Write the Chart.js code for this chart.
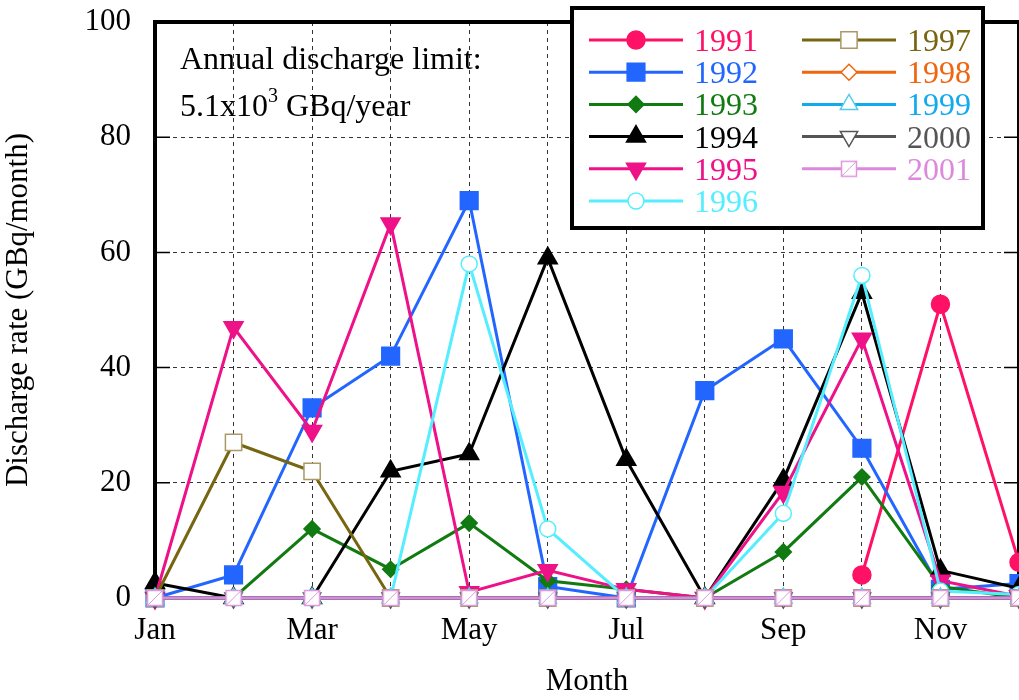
<!DOCTYPE html>
<html>
<head>
<meta charset="utf-8">
<script src="https://cdn.jsdelivr.net/npm/chart.js@4.4.1/dist/chart.umd.min.js"></script>
<style>
  html, body { margin: 0; padding: 0; background: #fff; }
</style>
</head>
<body>
<canvas id="chart" width="1019" height="700"></canvas>
<script>
const months = ['Jan', 'Feb', 'Mar', 'Apr', 'May', 'Jun', 'Jul', 'Aug', 'Sep', 'Oct', 'Nov', 'Dec'];
const yTicks = [0, 20, 40, 60, 80, 100];

// monthly discharge rate (GBq/month)
const d1991 = [null, null, null, null, null, null, null, null, null, 4, 51, 6.2];
const d1992 = [0, 4, 33, 42, 69, 2, 0, 36, 45, 26, 1.5, 2.5];
const d1993 = [0, 0, 12, 5, 13, 3, 1.5, 0, 8, 21, 2, 0];
const d1994 = [2.6, 0, 0, 22, 25, 59, 24, 0, 20.5, 53, 4.8, 1.7];
const d1995 = [0, 47, 29, 65, 1, 4.8, 1.5, 0, 18.4, 45, 3, 0.3];
const d1996 = [0, 0, 0, 0, 58, 12, 0, 0, 14.7, 56, 1.2, 0.6];
const d1997 = [0, 27, 22, 0, 0, 0, 0, 0, 0, 0, 0, 0];
const d1998 = [0, 0, 0, 0, 0, 0, 0, 0, 0, 0, 0, 0];
const d1999 = [0, 0, 0, 0, 0, 0, 0, 0, 0, 0, 0, 0];
const d2000 = [0, 0, 0, 0, 0, 0, 0, 0, 0, 0, 0, 0];
const d2001 = [0, 0, 0, 0, 0, 0, 0, 0, 0, 0, 0, 0];

const seriesNames = ['1991', '1992', '1993', '1994', '1995', '1996', '1997', '1998', '1999', '2000', '2001'];
const seriesData = [d1991, d1992, d1993, d1994, d1995, d1996, d1997, d1998, d1999, d2000, d2001];

const FONT = "'Liberation Serif', 'Times New Roman', serif";

// square with a diagonal stroke, used for 2001
function slashSquare(color) {
    const c = document.createElement('canvas');
    c.width = 18; c.height = 18;
    const g = c.getContext('2d');
    g.fillStyle = '#fff';
    g.fillRect(1, 1, 16, 16);
    g.strokeStyle = color;
    g.lineWidth = 1.5;
    g.strokeRect(1.5, 1.5, 15, 15);
    g.lineWidth = 1;
    g.beginPath();
    g.moveTo(2, 16); g.lineTo(16, 2);
    g.stroke();
    return c;
}

const styles = [
    { color: '#ff1166', mark: '#ff1166', fill: '#ff1166', shape: 'circle', r: 9, rot: 0 },
    { color: '#2266ff', mark: '#2266ff', fill: '#2266ff', shape: 'rect', r: 12.5, rot: 0 },
    { color: '#117a11', mark: '#117a11', fill: '#117a11', shape: 'rectRot', r: 8, rot: 0 },
    { color: '#000000', mark: '#000000', fill: '#000000', shape: 'triangle', r: 11, rot: 0 },
    { color: '#ee1188', mark: '#ee1188', fill: '#ee1188', shape: 'triangle', r: 11, rot: 180 },
    { color: '#55eeff', mark: '#55eeff', fill: '#ffffff', shape: 'circle', r: 8, rot: 0 },
    { color: '#776611', mark: '#aa9966', fill: '#ffffff', shape: 'rect', r: 11.5, rot: 0 },
    { color: '#ee6611', mark: '#ee6611', fill: '#ffffff', shape: 'rectRot', r: 8, rot: 0 },
    { color: '#11aaee', mark: '#55ccee', fill: '#ffffff', shape: 'triangle', r: 10, rot: 0 },
    { color: '#555555', mark: '#555555', fill: '#ffffff', shape: 'triangle', r: 10, rot: 180 },
    { color: '#dd88dd', mark: '#dd99dd', fill: '#ffffff', shape: slashSquare('#dd99dd'), r: 9, rot: 0 }
];

const datasets = seriesNames.map((name, i) => ({
    label: name,
    data: seriesData[i],
    borderColor: styles[i].color,
    backgroundColor: styles[i].fill,
    borderWidth: 3,
    pointStyle: styles[i].shape,
    pointRadius: styles[i].r,
    pointRotation: styles[i].rot,
    pointBackgroundColor: styles[i].fill,
    pointBorderColor: styles[i].mark,
    pointBorderWidth: 1.5,
    tension: 0,
    clip: false,
    order: seriesNames.length - i
}));

// frame, inner ticks, the note and the two-column key
const decorations = {
    id: 'decorations',
    beforeDatasetsDraw(chart) {
        const { ctx, chartArea: a, scales } = chart;
        ctx.save();
        ctx.strokeStyle = '#000';
        ctx.lineWidth = 4;
        ctx.strokeRect(a.left, a.top, a.right - a.left, a.bottom - a.top);
        ctx.lineWidth = 1.5;
        yTicks.forEach(v => {
            const y = scales.y.getPixelForValue(v);
            ctx.beginPath();
            ctx.moveTo(a.left, y); ctx.lineTo(a.left + 15, y);
            ctx.moveTo(a.right, y); ctx.lineTo(a.right - 15, y);
            ctx.stroke();
        });
        ctx.restore();
    },
    afterDraw(chart) {
        const ctx = chart.ctx;
        ctx.save();
        ctx.fillStyle = '#000';
        ctx.font = '32px ' + FONT;
        ctx.textBaseline = 'alphabetic';
        ctx.fillText('Annual discharge limit:', 180, 69);
        let x = 180;
        ctx.fillText('5.1x10', x, 116);
        x += ctx.measureText('5.1x10').width;
        ctx.font = '20px ' + FONT;
        ctx.fillText('3', x, 102);
        x += ctx.measureText('3').width;
        ctx.font = '32px ' + FONT;
        ctx.fillText(' GBq/year', x, 116);

        // key box
        ctx.fillStyle = '#fff';
        ctx.fillRect(570, 6, 415, 224);
        ctx.lineWidth = 4;
        ctx.strokeStyle = '#000';
        ctx.strokeRect(572, 8, 411, 220);

        chart.data.datasets.forEach((ds, i) => {
            const col = i < 6 ? 0 : 1;
            const row = i < 6 ? i : i - 6;
            const y = 40 + row * 32.2;
            const x0 = col ? 802 : 589;
            const st = styles[i];
            ctx.strokeStyle = st.color;
            ctx.lineWidth = 3;
            ctx.beginPath();
            ctx.moveTo(x0, y); ctx.lineTo(x0 + 94, y);
            ctx.stroke();
            ctx.fillStyle = st.fill;
            ctx.strokeStyle = st.mark;
            ctx.lineWidth = 1.5;
            Chart.helpers.drawPoint(ctx, {
                pointStyle: st.shape, radius: st.r, rotation: st.rot, borderWidth: 1.5
            }, x0 + 47, y);
            ctx.fillStyle = st.color;
            ctx.font = '32px ' + FONT;
            ctx.fillText(ds.label, x0 + 105, y + 11);
        });
        ctx.restore();
    }
};

new Chart(document.getElementById('chart'), {
    type: 'line',
    data: { labels: months, datasets },
    options: {
        responsive: false,
        animation: false,
        layout: { autoPadding: false, padding: { top: 22, right: 0, left: 0, bottom: 0 } },
        plugins: { legend: { display: false }, tooltip: { enabled: false } },
        scales: {
            x: {
                offset: false,
                grid: { color: '#333', lineWidth: 1, drawTicks: false },
                border: { display: true, width: 4, color: '#000', dash: [4, 4] },
                ticks: {
                    autoSkip: false, maxRotation: 0, padding: 14, color: '#000',
                    font: { family: FONT, size: 31 },
                    callback: (v, i) => (i % 2 === 0 ? months[i] : '')
                },
                title: {
                    display: true, text: 'Month', color: '#000',
                    font: { family: FONT, size: 31 }, padding: { top: 0, bottom: 0 }
                },
                afterFit: s => {
                    s.height = 102;
                    s.paddingLeft = 0; s.paddingRight = 0;
                }
            },
            y: {
                min: 0, max: 100,
                grid: { color: '#333', lineWidth: 1, drawTicks: false },
                border: { display: true, width: 4, color: '#000', dash: [4, 4] },
                ticks: {
                    stepSize: 20, padding: 24, color: '#000',
                    font: { family: FONT, size: 31 }
                },
                title: {
                    display: true, text: 'Discharge rate (GBq/month)', color: '#000',
                    font: { family: FONT, size: 31 }, padding: { top: 0, bottom: 0 }
                },
                afterFit: s => {
                    s.width = 155;
                    s.paddingTop = 0; s.paddingBottom = 0;
                }
            }
        }
    },
    plugins: [decorations]
});
</script>
</body>
</html>
